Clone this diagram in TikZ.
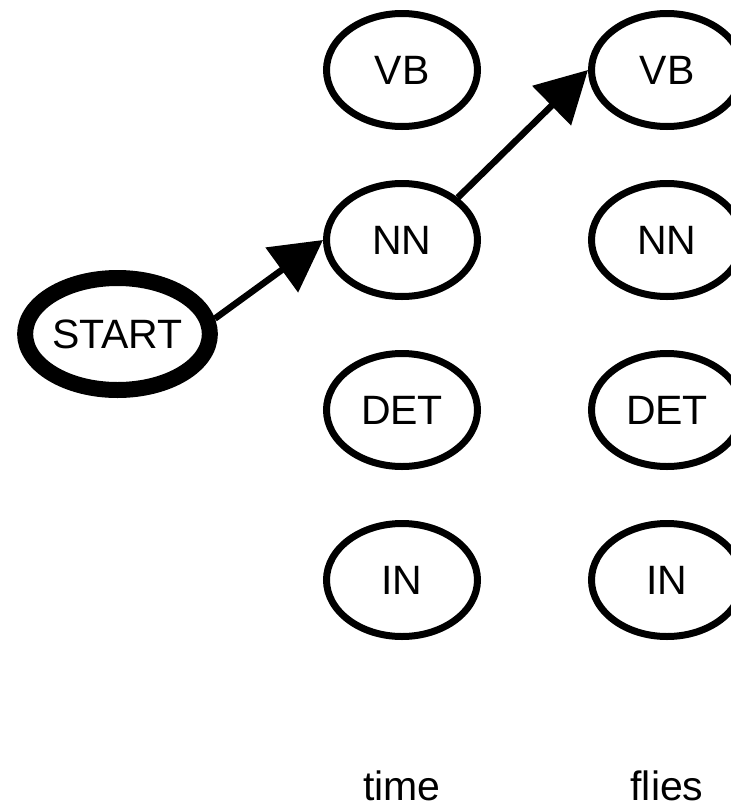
\documentclass[tikz,border=0pt]{standalone}
\usepackage{fontspec}
\setmainfont{Liberation Sans}
\usetikzlibrary{positioning,shapes.geometric,arrows.meta}

\begin{document}
\begin{tikzpicture}[
    x=1pt, y=-1pt,
    node distance=50pt and 107pt,
    tag/.style={
        ellipse, draw=black, line width=7pt, inner sep=0pt,
        minimum width=151pt, minimum height=113pt,
        font=\fontsize{41}{49}\selectfont
    },
    begin/.style={
        tag, line width=16pt, minimum width=183pt, minimum height=112pt
    },
    word/.style={
        anchor=base, font=\fontsize{41}{49}\selectfont
    },
    hop/.style={
        line width=6.5pt, -{Triangle[length=51pt,width=54pt]}
    }
]
    \useasboundingbox (0,0) rectangle (731,809);

    \node (start) [begin] at (117.5,334) {START};

    % column for the first word
    \node (nn1) [tag] at (402,240) {NN};
    \node (vb1) [tag, above=of nn1] {VB};
    \node (det1) [tag, below=of nn1] {DET};
    \node (in1) [tag, below=of det1] {IN};

    % column for the second word
    \node (vb2) [tag, right=of vb1] {VB};
    \node (nn2) [tag, right=of nn1] {NN};
    \node (det2) [tag, right=of det1] {DET};
    \node (in2) [tag, right=of in1] {IN};

    \node (time) [word] at (402,800) {time};
    \node (flies) [word] at (667,800) {flies};

    \draw [hop] (start.9) -- (nn1.west);
    \draw [hop] (nn1.north east) -- (vb2.west);
\end{tikzpicture}
\end{document}
